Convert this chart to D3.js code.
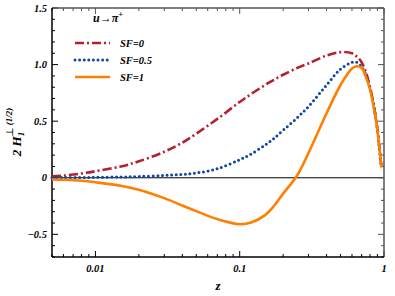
<!DOCTYPE html>
<html>
<head>
<meta charset="utf-8">
<script src="https://cdn.jsdelivr.net/npm/d3@7"></script>
<style>
  body { margin: 0; background: #fff; }
  text { font-family: "Liberation Serif", "DejaVu Serif", serif; font-style: italic; font-weight: bold; }
</style>
</head>
<body>
<svg id="chart" width="395" height="296"></svg>
<script>
// z grid and the three curves
var zValues = [0.005, 0.006, 0.008, 0.01, 0.015, 0.02, 0.03, 0.04, 0.05, 0.07, 0.1, 0.12, 0.15, 0.17, 0.2, 0.25, 0.3, 0.4, 0.5, 0.6, 0.65, 0.7, 0.75, 0.8, 0.85, 0.9, 0.93, 0.96];
var sf0 =   [0.012, 0.02, 0.038, 0.058, 0.1, 0.145, 0.23, 0.31, 0.39, 0.52, 0.67, 0.74, 0.82, 0.86, 0.91, 0.97, 1.01, 1.08, 1.11, 1.10, 1.07, 1.02, 0.93, 0.80, 0.64, 0.43, 0.26, 0.09];
var sf05 =  [0.002, 0.002, 0.003, 0.004, 0.007, 0.011, 0.02, 0.03, 0.042, 0.08, 0.16, 0.21, 0.29, 0.34, 0.42, 0.53, 0.63, 0.82, 0.96, 1.02, 1.02, 0.98, 0.91, 0.79, 0.63, 0.43, 0.26, 0.09];
var sf1 =   [-0.015, -0.018, -0.027, -0.04, -0.07, -0.105, -0.18, -0.245, -0.295, -0.365, -0.41, -0.395, -0.33, -0.26, -0.14, 0.02, 0.22, 0.57, 0.82, 0.965, 0.985, 0.97, 0.89, 0.78, 0.62, 0.42, 0.26, 0.09];
var seriesNames = ["SF=0", "SF=0.5", "SF=1"];
var seriesColors = ["#b4202e", "#0d47a1", "#ff8000"];
var xTickValues = [0.01, 0.1, 1];
var xTickLabels = ["0.01", "0.1", "1"];
var yTickValues = [-0.5, 0, 0.5, 1.0, 1.5];
var yTickLabels = ["\u22120.5", "0", "0.5", "1.0", "1.5"];

var svg = d3.select("#chart");
var margin = { left: 52, right: 11, top: 8, bottom: 39 };
var W = 395, H = 296;

var x = d3.scaleLog().domain([0.005, 1]).range([margin.left, W - margin.right]);
var y = d3.scaleLinear().domain([-0.7, 1.5]).range([H - margin.bottom, margin.top]);

var x0 = x.range()[0], x1 = x.range()[1], y0 = y.range()[0], y1 = y.range()[1];

// minor ticks
var xMinor = [];
[0.001, 0.01, 0.1].forEach(function (d) {
  for (var k = 2; k <= 9; k++) {
    var v = d * k;
    if (v >= 0.005 && v <= 1 && xTickValues.indexOf(v) < 0) xMinor.push(v);
  }
});
var yMinor = d3.range(-7, 16).map(function (i) { return i / 10; })
  .filter(function (v) { return Math.abs(v * 2 - Math.round(v * 2)) > 1e-6; });

var g = svg.append("g");

// zero line
g.append("line").attr("x1", x0).attr("x2", x1).attr("y1", y(0)).attr("y2", y(0))
  .attr("stroke", "#000").attr("stroke-width", 1);

// ticks pointing inward
function tickLines(values, len, vertical, pos, dir, color) {
  g.selectAll(null).data(values).enter().append("line")
    .attr("x1", function (d) { return vertical ? x(d) : pos; })
    .attr("x2", function (d) { return vertical ? x(d) : pos + dir * len; })
    .attr("y1", function (d) { return vertical ? pos : y(d); })
    .attr("y2", function (d) { return vertical ? pos + dir * len : y(d); })
    .attr("stroke", color).attr("stroke-width", 1);
}
tickLines(xTickValues, 6, true, y0, -1, "#000");
tickLines(xMinor, 3, true, y0, -1, "#000");
tickLines(xTickValues, 6, true, y1, 1, "#555");
tickLines(xMinor, 3, true, y1, 1, "#555");
tickLines(yTickValues, 6, false, x0, 1, "#000");
tickLines(yMinor, 3, false, x0, 1, "#000");
tickLines(yTickValues, 6, false, x1, -1, "#555");
tickLines(yMinor, 3, false, x1, -1, "#555");

// frame
g.append("line").attr("x1", x0).attr("x2", x1).attr("y1", y1).attr("y2", y1).attr("stroke", "#555").attr("stroke-width", 1.5);
g.append("line").attr("x1", x1).attr("x2", x1).attr("y1", y1).attr("y2", y0).attr("stroke", "#555").attr("stroke-width", 1.5);
g.append("line").attr("x1", x0).attr("x2", x1).attr("y1", y0).attr("y2", y0).attr("stroke", "#000").attr("stroke-width", 1.5);
g.append("line").attr("x1", x0).attr("x2", x0).attr("y1", y1).attr("y2", y0).attr("stroke", "#000").attr("stroke-width", 1.5);

// tick labels
g.selectAll(null).data(xTickValues).enter().append("text")
  .attr("x", function (d) { return x(d); }).attr("y", y0 + 15)
  .attr("text-anchor", "middle").attr("font-size", 10.5)
  .text(function (d, i) { return xTickLabels[i]; });
g.selectAll(null).data(yTickValues).enter().append("text")
  .attr("x", x0 - 5).attr("y", function (d) { return y(d) + 3.5; })
  .attr("text-anchor", "end").attr("font-size", 10.5)
  .text(function (d, i) { return yTickLabels[i]; });

// axis titles
g.append("text").attr("x", 218).attr("y", 290).attr("text-anchor", "middle")
  .attr("font-size", 13).text("z");
var yl = g.append("text").attr("transform", "translate(21,132) rotate(-90)")
  .attr("text-anchor", "middle").attr("font-size", 13);
yl.append("tspan").text("2 H");
yl.append("tspan").attr("font-size", 9).attr("dy", 3).text("1");
yl.append("tspan").attr("font-size", 10).attr("dx", -5).attr("dy", -11).attr("font-style", "normal").attr("font-weight", "normal").text("\u22a5");
yl.append("tspan").attr("font-size", 9).attr("dx", 2).attr("dy", -1).text("(1/2)");

// curves
var line = d3.line()
  .x(function (d) { return x(d[0]); })
  .y(function (d) { return y(d[1]); })
  .curve(d3.curveCatmullRom.alpha(0.5));
var allSeries = [sf0, sf05, sf1];
var dashes = ["9 3 2 3", "0 4.6", null];
var widths = [2.6, 3, 2.6];

allSeries.forEach(function (vals, i) {
  var pts = zValues.map(function (z, j) { return [z, vals[j]]; });
  g.append("path").datum(pts).attr("d", line)
    .attr("fill", "none").attr("stroke", seriesColors[i])
    .attr("stroke-width", widths[i])
    .attr("stroke-linecap", i === 1 ? "round" : "butt")
    .attr("stroke-dasharray", dashes[i]);
});

// legend
var leg = g.append("g");
var lt = leg.append("text").attr("x", 93).attr("y", 22).attr("font-size", 12);
lt.append("tspan").text("u\u2192\u03c0");
lt.append("tspan").attr("font-size", 8.5).attr("dy", -5).text("+");
seriesNames.forEach(function (name, i) {
  var ly = 43 + i * 17;
  leg.append("line").attr("x1", 75).attr("x2", 110).attr("y1", ly).attr("y2", ly)
    .attr("stroke", seriesColors[i]).attr("stroke-width", widths[i])
    .attr("stroke-linecap", i === 1 ? "round" : "butt")
    .attr("stroke-dasharray", dashes[i]);
  leg.append("text").attr("x", 120).attr("y", ly + 3.5).attr("font-size", 10.5).text(name);
});
</script>
</body>
</html>
